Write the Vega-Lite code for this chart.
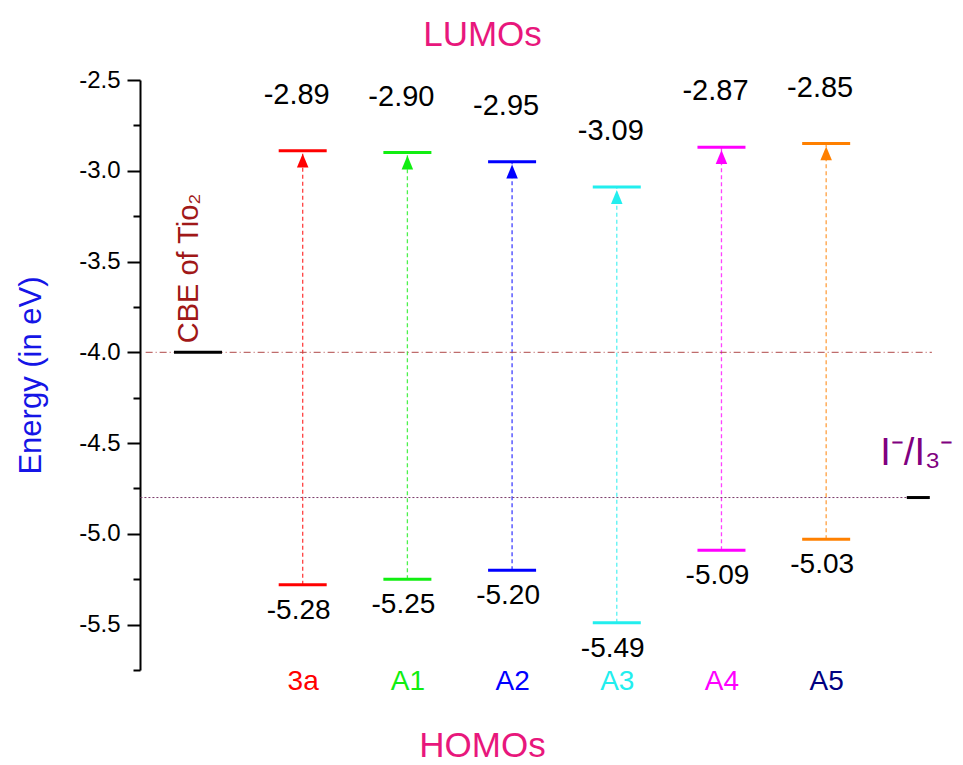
{
  "$schema": "https://vega.github.io/schema/vega-lite/v6.json",
  "width": 823,
  "height": 590,
  "autosize": {"type": "none"},
  "padding": {"left": 140, "top": 80, "right": 0, "bottom": 95},
  "background": "white",
  "config": {
    "font": "Liberation Sans",
    "view": {"stroke": null},
    "locale": {"number": {"decimal": ".", "thousands": ",", "grouping": [3], "currency": ["$", ""], "minus": "-"}}
  },
  "title": {"text": "LUMOs", "fontSize": 35, "fontWeight": "normal", "color": "#e8177c", "anchor": "middle", "dx": -69, "offset": 15},
  "datasets": {
    "dyes": [
      {"dye": "3a", "pos": 1, "lumo": -2.89, "homo": -5.28},
      {"dye": "A1", "pos": 2, "lumo": -2.90, "homo": -5.25},
      {"dye": "A2", "pos": 3, "lumo": -2.95, "homo": -5.20},
      {"dye": "A3", "pos": 4, "lumo": -3.09, "homo": -5.49},
      {"dye": "A4", "pos": 5, "lumo": -2.87, "homo": -5.09},
      {"dye": "A5", "pos": 6, "lumo": -2.85, "homo": -5.03}
    ],
    "refs": [
      {"name": "CBE of Tio₂", "key": "cbe", "pos": 0, "energy": -4.0},
      {"name": "I⁻/I₃⁻", "key": "redox", "pos": 6.88, "energy": -4.8}
    ]
  },
  "layer": [
    {
      "data": {"name": "dyes"},
      "mark": {"type": "rule", "strokeDash": [4, 3], "strokeWidth": 1.3, "opacity": 0.75},
      "encoding": {
        "y": {"field": "homo", "type": "quantitative", "scale": {"domain": [-5.75, -2.5], "nice": false, "zero": false},
          "axis": {
            "values": [-2.5, -2.75, -3.0, -3.25, -3.5, -3.75, -4.0, -4.25, -4.5, -4.75, -5.0, -5.25, -5.5, -5.75],
            "format": ".1f",
            "labelExpr": "datum.value % 0.5 == 0 ? datum.label : ''",
            "tickSize": {"condition": {"test": "datum.value % 0.5 != 0", "value": 7}, "value": 13},
            "grid": false,
            "domainColor": "black", "domainWidth": 2,
            "tickColor": "black", "tickWidth": 2,
            "labelFontSize": 24, "labelColor": "black", "labelPadding": 7,
            "title": "Energy (in eV)", "titleFontSize": 31, "titleColor": "#1515e6", "titleFontWeight": "normal", "titlePadding": 31
          }},
        "y2": {"field": "lumo"},
        "x": {"field": "pos", "type": "quantitative", "scale": {"domain": [-0.554, 7.307], "nice": false, "zero": false},
          "axis": {
            "values": [1, 2, 3, 4, 5, 6],
            "labelExpr": "['CBE','3a','A1','A2','A3','A4','A5'][datum.value]",
            "domain": false, "ticks": false, "tickSize": 0, "grid": false,
            "labelFontSize": 28, "labelBaseline": "middle", "labelPadding": 11, "labelFlush": false, "labelOverlap": false,
            "labelColor": {"condition": [
              {"test": "datum.value == 1", "value": "#ff0000"},
              {"test": "datum.value == 2", "value": "#11ee11"},
              {"test": "datum.value == 3", "value": "#0000ff"},
              {"test": "datum.value == 4", "value": "#22eeee"},
              {"test": "datum.value == 5", "value": "#ff00ff"},
              {"test": "datum.value == 6", "value": "#000080"}
            ], "value": "black"},
            "title": "HOMOs", "titleFontSize": 35, "titleColor": "#e8177c", "titleFontWeight": "normal",
            "titleX": 342, "titleY": 75, "titleBaseline": "middle", "titleAlign": "center"
          }},
        "color": {"field": "dye", "type": "nominal", "legend": null,
          "scale": {"domain": ["3a", "A1", "A2", "A3", "A4", "A5"], "range": ["#ff0000", "#11ee11", "#0000ff", "#22eeee", "#ff00ff", "#ff8000"]}}
      }
    },
    {
      "data": {"name": "refs"},
      "transform": [{"filter": "datum.key == 'cbe'"}],
      "mark": {"type": "rule", "strokeDash": [7, 3, 1, 3], "color": "#b04848", "strokeWidth": 1},
      "encoding": {
        "y": {"field": "energy", "type": "quantitative"},
        "x": {"datum": -0.5, "type": "quantitative"},
        "x2": {"datum": 7.01}
      }
    },
    {
      "data": {"name": "refs"},
      "transform": [{"filter": "datum.key == 'redox'"}],
      "mark": {"type": "rule", "strokeDash": [2, 2], "color": "#7a3a6a", "strokeWidth": 1},
      "encoding": {
        "y": {"field": "energy", "type": "quantitative"},
        "x": {"datum": -0.55, "type": "quantitative"},
        "x2": {"datum": 6.77}
      }
    },
    {
      "data": {"name": "dyes"},
      "mark": {"type": "point", "shape": "M0,0.18L-0.36,1.05L0.36,1.05Z", "filled": true, "size": 1024, "opacity": 1},
      "encoding": {
        "x": {"field": "pos", "type": "quantitative"},
        "y": {"field": "lumo", "type": "quantitative"},
        "color": {"field": "dye", "type": "nominal", "legend": null}
      }
    },
    {
      "data": {"name": "dyes"},
      "mark": {"type": "tick", "orient": "horizontal", "size": 48, "thickness": 3, "opacity": 1},
      "encoding": {
        "x": {"field": "pos", "type": "quantitative"},
        "y": {"field": "lumo", "type": "quantitative"},
        "color": {"field": "dye", "type": "nominal", "legend": null}
      }
    },
    {
      "data": {"name": "dyes"},
      "mark": {"type": "tick", "orient": "horizontal", "size": 48, "thickness": 3, "opacity": 1},
      "encoding": {
        "x": {"field": "pos", "type": "quantitative"},
        "y": {"field": "homo", "type": "quantitative"},
        "color": {"field": "dye", "type": "nominal", "legend": null}
      }
    },
    {
      "data": {"name": "dyes"},
      "mark": {"type": "text", "fontSize": 29, "color": "black", "dy": -56, "dx": -6, "align": "center", "baseline": "middle"},
      "encoding": {
        "x": {"field": "pos", "type": "quantitative"},
        "y": {"field": "lumo", "type": "quantitative"},
        "text": {"field": "lumo", "type": "quantitative", "format": ".2f"}
      }
    },
    {
      "data": {"name": "dyes"},
      "mark": {"type": "text", "fontSize": 28, "color": "black", "dy": 26, "dx": -4, "align": "center", "baseline": "middle"},
      "encoding": {
        "x": {"field": "pos", "type": "quantitative"},
        "y": {"field": "homo", "type": "quantitative"},
        "text": {"field": "homo", "type": "quantitative", "format": ".2f"}
      }
    },
    {
      "data": {"name": "refs"},
      "transform": [{"filter": "datum.key == 'cbe'"}],
      "mark": {"type": "tick", "orient": "horizontal", "size": 48, "thickness": 3, "color": "black", "opacity": 1},
      "encoding": {
        "x": {"field": "pos", "type": "quantitative"},
        "y": {"field": "energy", "type": "quantitative"}
      }
    },
    {
      "data": {"name": "refs"},
      "transform": [{"filter": "datum.key == 'redox'"}],
      "mark": {"type": "tick", "orient": "horizontal", "size": 23, "thickness": 3, "color": "black", "opacity": 1},
      "encoding": {
        "x": {"field": "pos", "type": "quantitative"},
        "y": {"field": "energy", "type": "quantitative"}
      }
    },
    {
      "data": {"name": "refs"},
      "transform": [{"filter": "datum.key == 'cbe'"}],
      "mark": {"type": "text", "fontSize": 29, "color": "#a01818", "angle": 270, "align": "left", "baseline": "alphabetic", "dx": 9, "dy": 0},
      "encoding": {
        "x": {"field": "pos", "type": "quantitative"},
        "y": {"field": "energy", "type": "quantitative"},
        "text": {"field": "name", "type": "nominal"}
      }
    },
    {
      "data": {"name": "refs"},
      "transform": [{"filter": "datum.key == 'redox'"}],
      "mark": {"type": "text", "fontSize": 38, "color": "#800080", "align": "left", "baseline": "alphabetic", "dx": -38, "dy": -33},
      "encoding": {
        "x": {"field": "pos", "type": "quantitative"},
        "y": {"field": "energy", "type": "quantitative"},
        "text": {"field": "name", "type": "nominal"}
      }
    }
  ]
}
